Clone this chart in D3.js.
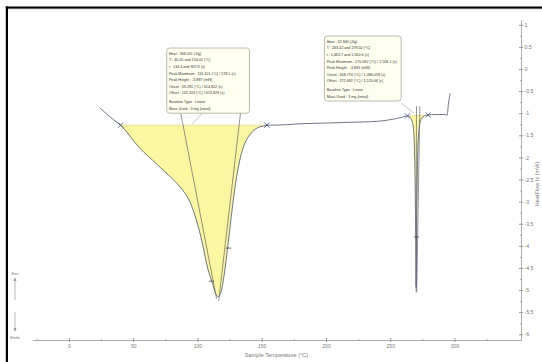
<!DOCTYPE html>
<html><head><meta charset="utf-8">
<script src="https://cdn.jsdelivr.net/npm/d3@7/dist/d3.min.js"></script>
<style>
html,body{margin:0;padding:0;background:#fff;}
svg{display:block;font-family:"Liberation Sans",Arial,sans-serif;}
</style></head>
<body>
<svg id="chart" width="542" height="362"></svg>
<script>
// ---- data ----
const tempC = [24.1, 29.5, 34.9, 40.2, 55.1, 68.3, 80.7, 88.5, 93.9, 99.4, 104.0, 107.9, 111.8, 114.1, 116.1, 118.0, 120.3, 122.7, 125.0, 127.3, 129.7, 132.8, 136.6, 141.3, 146.7, 151.4, 154.0, 160.7, 179.3, 202.6, 225.9, 241.5, 253.1, 259.3, 263.4, 265.5, 267.0, 268.0, 268.8, 269.4, 269.8, 270.1, 270.4, 270.8, 271.4, 272.3, 273.5, 275.5, 279.5, 285, 291, 294.3, 295.2, 296.6];
const heatFlow = [-0.88, -1.02, -1.15, -1.27, -1.79, -2.15, -2.49, -2.74, -2.99, -3.44, -3.96, -4.50, -4.86, -5.08, -5.15, -5.08, -4.75, -4.23, -3.67, -3.10, -2.58, -2.08, -1.70, -1.47, -1.33, -1.29, -1.27, -1.27, -1.24, -1.22, -1.20, -1.18, -1.13, -1.09, -1.06, -1.10, -1.18, -1.35, -1.80, -2.70, -3.80, -4.94, -3.90, -2.80, -1.90, -1.40, -1.18, -1.08, -1.04, -1.03, -1.03, -1.04, -0.80, -0.55];

// integration limits [T start, HF start, T end, HF end]
const peakLimits = [[40.20, -1.27, 154.02, -1.27], [263.42, -1.06, 279.50, -1.04]];
// tangent / construction lines [T1, HF1, T2, HF2]
const constructionLines = [[87.0, -1.0, 114.9, -5.20], [133.5, -1.0, 116.5, -5.25],
                           [270.4, -0.84, 270.1, -5.05], [273.0, -0.84, 270.6, -5.05]];
// leader lines from boxes
const leaderLines = [[103.9, -0.99, 96.1, -1.24], [258.5, -0.77, 268.6, -1.0]];
// small marks on curve
const curveMarks = [[124.2, -4.05], [111.0, -4.80], [270.3, -3.80]];

const xTicks = [0, 50, 100, 150, 200, 250, 300];
const xMinor = [-25, 25, 75, 125, 175, 225, 275, 325];
const yTicks = [1, 0.5, 0, -0.5, -1, -1.5, -2, -2.5, -3, -3.5, -4, -4.5, -5, -5.5, -6];
const yMinor = d3.range(-24, 5).map(d => d / 4).filter(d => d % 0.5 !== 0);

const box1Lines = ["Heat : 309.011 (J/g)", "T : 40.20 and 154.02 (°C)", "t : 134.4 and 907.9 (s)",
  "Peak Maximum : 116.101 (°C) / 578.1 (s)", "Peak Height : -3.887 (mW)",
  "Onset : 59.291 (°C) / 414.822 (s)", "Offset : 132.324 (°C) / 674.829 (s)",
  "Baseline Type : Linear", "Mass Used : 3 mg (initial)"];
const box2Lines = ["Heat : 22.840 (J/g)", "T : 263.42 and 279.50 (°C)", "t : 1,463.7 and 1,560.6 (s)",
  "Peak Maximum : 270.082 (°C) / 1,506.1 (s)", "Peak Height : -3.881 (mW)",
  "Onset : 268.774 (°C) / 1,496.059 (s)", "Offset : 272.692 (°C) / 1,520.06 (s)",
  "Baseline Type : Linear", "Mass Used : 3 mg (initial)"];
// box corners in data units [T left, HF top, T right, HF bottom]
const boxAnchors = [[76.1, 0.475, 140.5, -1.0], [198.8, 0.747, 258.5, -0.724]];

// ---- drawing ----
const svg = d3.select("#chart");
const x = d3.scaleLinear().domain([-28.7, 351.7]).range([32, 521]);
const y = d3.scaleLinear().domain([-6.13, 1.12]).range([340, 19.5]);
const pts = tempC.map((t, i) => [t, heatFlow[i]]);

// fills
peakLimits.forEach(([t0, v0, t1, v1]) => {
  const base = t => v0 + (v1 - v0) * (t - t0) / (t1 - t0);
  const seg = pts.filter(p => p[0] >= t0 - 1e-6 && p[0] <= t1 + 1e-6);
  const area = d3.area().curve(d3.curveMonotoneX)
    .x(d => x(d[0])).y0(d => y(base(d[0]))).y1(d => y(d[1]));
  svg.append("path").datum(seg).attr("d", area).attr("fill", "#fbf6a0").attr("stroke", "none");
  svg.append("line").attr("x1", x(t0)).attr("y1", y(v0)).attr("x2", x(t1)).attr("y2", y(v1))
    .attr("stroke", "#d8d27a").attr("stroke-width", 0.6);
});

// construction lines
constructionLines.forEach(([a, b, c, d]) => {
  svg.append("line").attr("x1", x(a)).attr("y1", y(b)).attr("x2", x(c)).attr("y2", y(d))
    .attr("stroke", "#666").attr("stroke-width", 0.7);
});
leaderLines.forEach(([a, b, c, d]) => {
  svg.append("line").attr("x1", x(a)).attr("y1", y(b)).attr("x2", x(c)).attr("y2", y(d))
    .attr("stroke", "#aaa").attr("stroke-width", 0.7);
});

// curve
const line = d3.line().curve(d3.curveMonotoneX).x(d => x(d[0])).y(d => y(d[1]));
svg.append("path").datum(pts).attr("d", line).attr("fill", "none")
  .attr("stroke", "#5d6579").attr("stroke-width", 0.9);

// X markers
peakLimits.forEach(([t0, v0, t1, v1]) => {
  [[t0, v0], [t1, v1]].forEach(([t, v]) => {
    const cx = x(t), cy = y(v), s = 2.6;
    svg.append("path").attr("d", `M${cx - s},${cy - s}L${cx + s},${cy + s}M${cx - s},${cy + s}L${cx + s},${cy - s}`)
      .attr("stroke", "#3d4a78").attr("stroke-width", 0.8);
  });
});
curveMarks.forEach(([t, v]) => {
  svg.append("line").attr("x1", x(t) - 2.5).attr("x2", x(t) + 2.5).attr("y1", y(v)).attr("y2", y(v))
    .attr("stroke", "#444").attr("stroke-width", 0.8);
});

// annotation boxes
[box1Lines, box2Lines].forEach((lines, k) => {
  const [ta, va, tb, vb] = boxAnchors[k];
  const bx = x(ta), by = y(va), bw = x(tb) - x(ta), bh = y(vb) - y(va);
  svg.append("rect").attr("x", bx).attr("y", by).attr("width", bw).attr("height", bh)
    .attr("rx", 3).attr("fill", "#fffff0").attr("stroke", "#a8a8a0").attr("stroke-width", 0.8);
  svg.append("g").selectAll("text").data(lines).join("text")
    .attr("x", bx + 2.2)
    .attr("y", (d, i) => by + 6.8 + i * 6.6 + (i >= 7 ? 2 : 0))
    .attr("font-size", 3.7).attr("fill", "#333").text(d => d);
});

// axes
const gx = svg.append("g").attr("transform", `translate(0,${y(-6.13)})`)
  .call(d3.axisBottom(x).tickValues(xTicks).tickSize(2).tickPadding(2).tickSizeOuter(0).tickFormat(d => String(d)));
gx.select(".domain").attr("stroke", "#999").attr("stroke-width", 0.8);
gx.selectAll(".tick line").attr("stroke", "#999").attr("y1", -2);
gx.selectAll(".tick text").attr("font-size", 5).attr("fill", "#777").attr("font-family", "Liberation Sans, Arial, sans-serif");
const gxm = svg.append("g").attr("transform", `translate(0,${y(-6.13)})`)
  .call(d3.axisBottom(x).tickValues(xMinor).tickSize(1).tickFormat(""));
gxm.select(".domain").remove();
gxm.selectAll(".tick line").attr("stroke", "#aaa").attr("y1", -1);

const gy = svg.append("g").attr("transform", `translate(${x(351.7)},0)`)
  .call(d3.axisRight(y).tickValues(yTicks).tickSize(2).tickPadding(1.5).tickSizeOuter(0).tickFormat(d => String(d)));
gy.select(".domain").attr("stroke", "#999").attr("stroke-width", 0.8);
gy.selectAll(".tick line").attr("stroke", "#999").attr("x1", -2);
gy.selectAll(".tick text").attr("font-size", 5.2).attr("fill", "#777").attr("font-family", "Liberation Sans, Arial, sans-serif");
const gym = svg.append("g").attr("transform", `translate(${x(351.7)},0)`)
  .call(d3.axisRight(y).tickValues(yMinor).tickSize(1.2).tickFormat(""));
gym.select(".domain").remove();
gym.selectAll(".tick line").attr("stroke", "#aaa").attr("x1", -1.2);

svg.append("text").attr("x", (x(-28.7) + x(351.7)) / 2).attr("y", 356.5).attr("text-anchor", "middle")
  .attr("font-size", 5.6).attr("fill", "#777").text("Sample Temperature (°C)");
svg.append("text").attr("transform", `translate(539,${y(-2.6)}) rotate(-90)`).attr("text-anchor", "middle")
  .attr("font-size", 5.6).attr("fill", "#777").text("HeatFlow Ic (mW)");

// Exo / Endo
svg.append("text").attr("x", 15).attr("y", 274.5).attr("text-anchor", "middle").attr("font-size", 4).attr("fill", "#777").text("Exo");
svg.append("text").attr("x", 15).attr("y", 339).attr("text-anchor", "middle").attr("font-size", 4).attr("fill", "#777").text("Endo");
svg.append("line").attr("x1", 15).attr("x2", 15).attr("y1", 300).attr("y2", 278).attr("stroke", "#999").attr("stroke-width", 0.7);
svg.append("path").attr("d", "M13.5,281L15,277.5L16.5,281Z").attr("fill", "#999");
svg.append("line").attr("x1", 15).attr("x2", 15).attr("y1", 312).attr("y2", 331).attr("stroke", "#999").attr("stroke-width", 0.7);
svg.append("path").attr("d", "M13.5,328L15,331.5L16.5,328Z").attr("fill", "#999");

// frame
svg.append("line").attr("x1", 5.8).attr("x2", 542).attr("y1", 7.6).attr("y2", 7.6).attr("stroke", "#000").attr("stroke-width", 2.2);
svg.append("line").attr("x1", 6.9).attr("x2", 6.9).attr("y1", 6.5).attr("y2", 362).attr("stroke", "#000").attr("stroke-width", 2.2);
svg.append("line").attr("x1", 8).attr("x2", 542).attr("y1", 9.2).attr("y2", 9.2).attr("stroke", "#ccc").attr("stroke-width", 0.6);
</script>
</body></html>
